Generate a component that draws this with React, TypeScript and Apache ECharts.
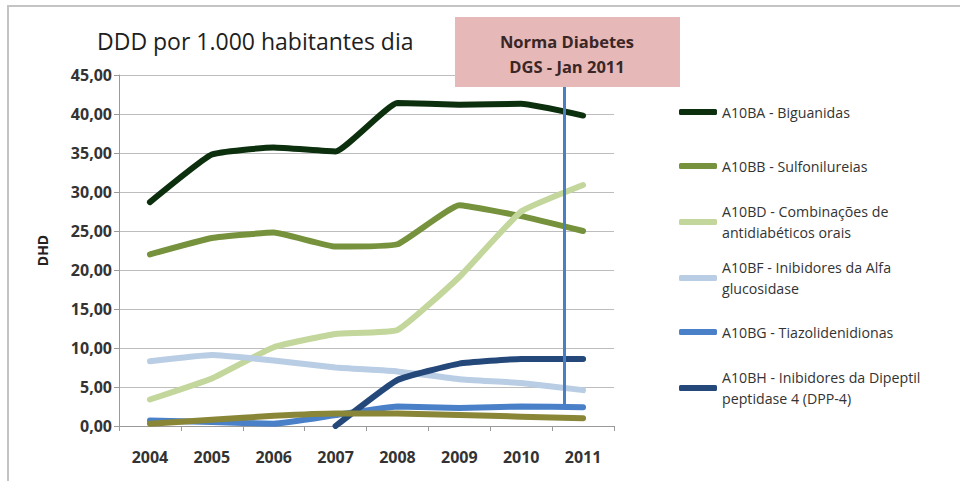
import React, { useEffect, useRef } from "react";
import * as echarts from "echarts";

const years = ["2004", "2005", "2006", "2007", "2008", "2009", "2010", "2011"];
const biguanidas = [28.7, 34.8, 35.7, 35.2, 41.4, 41.2, 41.3, 39.8];
const sulfonilureias = [22.0, 24.1, 24.8, 23.0, 23.3, 28.3, 26.9, 25.0];
const combinacoes = [3.4, 6.1, 10.1, 11.8, 12.3, 19.1, 27.5, 30.9];
const alfaGlucosidase = [8.3, 9.1, 8.4, 7.5, 7.0, 6.0, 5.5, 4.6];
const tiazolidenidionas = [0.7, 0.5, 0.3, 1.4, 2.5, 2.3, 2.5, 2.4];
const dpp4 = [null, null, null, 0.0, 5.9, 8.0, 8.6, 8.6];
const outros = [0.3, 0.8, 1.3, 1.6, 1.6, 1.4, 1.2, 1.0];
const yTicks = [0, 5, 10, 15, 20, 25, 30, 35, 40, 45];

const seriesDefs = [
  { name: "A10BA - Biguanidas", label: "A10BA - Biguanidas", data: biguanidas, color: "#0c2f0e", legendY: 112, two: false },
  { name: "A10BB - Sulfonilureias", label: "A10BB - Sulfonilureias", data: sulfonilureias, color: "#76923c", legendY: 166, two: false },
  { name: "A10BD - Combinações de antidiabéticos orais", label: "A10BD - Combinações de\nantidiabéticos orais", data: combinacoes, color: "#c3d69b", legendY: 222, two: true },
  { name: "A10BF - Inibidores da Alfa glucosidase", label: "A10BF - Inibidores da Alfa\nglucosidase", data: alfaGlucosidase, color: "#b9cde5", legendY: 278, two: true },
  { name: "A10BG - Tiazolidenidionas", label: "A10BG - Tiazolidenidionas", data: tiazolidenidionas, color: "#4a80c8", legendY: 332, two: false },
  { name: "A10BH - Inibidores da Dipeptil peptidase 4 (DPP-4)", label: "A10BH - Inibidores da Dipeptil\npeptidase 4 (DPP-4)", data: dpp4, color: "#25487a", legendY: 388, two: true },
];

const FONT = "'Open Sans', 'Noto Sans', sans-serif";
const LH = 21;

export default function App() {
  const ref = useRef<HTMLDivElement>(null);
  useEffect(() => {
    if (!ref.current) return;
    const chart = echarts.init(ref.current, null, { renderer: "svg" });
    const labelMap: Record<string, string> = {};
    seriesDefs.forEach((s) => (labelMap[s.name] = s.label));

    const legends = seriesDefs.map((s) => ({
      data: [s.name],
      orient: "vertical",
      left: 679,
      top: s.legendY - (s.two ? 1.5 * LH : 0.5 * LH),
      padding: 0,
      icon: "roundRect",
      itemWidth: 38,
      itemHeight: 6,
      formatter: (n: string) => labelMap[n] || n,
      textStyle: {
        fontFamily: FONT,
        fontSize: 14.2,
        color: "#333",
        lineHeight: LH,
        padding: s.two ? [LH, 0, 0, 0] : 0,
      },
    }));

    const series: any[] = seriesDefs.map((s) => ({
      name: s.name,
      type: "line",
      data: s.data,
      smooth: 0.12,
      symbol: "none",
      lineStyle: { width: 6, color: s.color, cap: "round", join: "round" },
      itemStyle: { color: s.color },
      connectNulls: false,
    }));
    series.push({
      name: "Outros",
      type: "line",
      data: outros,
      smooth: 0.12,
      symbol: "none",
      lineStyle: { width: 6, color: "#8a8638", cap: "round", join: "round" },
      itemStyle: { color: "#8a8638" },
    });

    chart.setOption({
      animation: false,
      backgroundColor: "#ffffff",
      title: {
        text: "DDD por 1.000 habitantes dia",
        left: 92,
        top: 24,
        textStyle: { fontFamily: FONT, fontSize: 23, fontWeight: "normal", color: "#1e1e1e" },
      },
      legend: legends,
      grid: { left: 119, right: 346, top: 75, bottom: 55 },
      xAxis: {
        type: "category",
        data: years,
        boundaryGap: true,
        axisLine: { lineStyle: { color: "#9a9a9a", width: 1 } },
        axisTick: { show: true, length: 5, lineStyle: { color: "#9a9a9a" } },
        axisLabel: { fontFamily: FONT, fontSize: 16, fontWeight: "bold", color: "#333", margin: 23 },
      },
      yAxis: {
        type: "value",
        min: 0,
        max: 45,
        interval: 5,
        name: "DHD",
        nameLocation: "middle",
        nameGap: 70,
        nameRotate: 90,
        nameTextStyle: { fontFamily: FONT, fontSize: 14, fontWeight: "bold", color: "#222" },
        axisLine: { show: true, lineStyle: { color: "#9a9a9a", width: 1 } },
        axisTick: { show: true, length: 5, lineStyle: { color: "#9a9a9a" } },
        splitLine: { lineStyle: { color: "#bdbdbd", width: 1 } },
        axisLabel: {
          fontFamily: FONT,
          fontSize: 16,
          fontWeight: "bold",
          color: "#333",
          margin: 7,
          formatter: (v: number) => (yTicks.includes(v) ? v.toFixed(2).replace(".", ",") : ""),
        },
      },
      series,
    });

    const x10 = chart.convertToPixel({ xAxisIndex: 0 }, "2010") as number;
    const x11 = chart.convertToPixel({ xAxisIndex: 0 }, "2011") as number;
    const lx = x10 + (x11 - x10) * 0.7;
    const yBot = chart.convertToPixel({ yAxisIndex: 0 }, 2.7) as number;
    const boxBottom = 87;

    chart.setOption({
      graphic: [
        {
          type: "rect",
          id: "frame",
          shape: { x: 8, y: 6, width: 1000, height: 520 },
          style: { fill: "none", stroke: "#c4c4c4", lineWidth: 2 },
          silent: true,
          z: -1,
        },
        {
          type: "line",
          id: "vline",
          shape: { x1: lx, y1: boxBottom, x2: lx, y2: yBot },
          style: { stroke: "#4a7fc4", lineWidth: 3 },
          z: 10,
        },
        {
          type: "rect",
          id: "box",
          shape: { x: 455, y: 17, width: 225, height: 70 },
          style: { fill: "#e6b8b7" },
          z: 11,
        },
        {
          type: "text",
          id: "box1",
          x: 567,
          y: 41,
          style: {
            text: "Norma Diabetes",
            fontFamily: FONT,
            fontSize: 16.5,
            fontWeight: "bold",
            fill: "#3a2626",
            align: "center",
            verticalAlign: "middle",
          },
          z: 12,
        },
        {
          type: "text",
          id: "box2",
          x: 567,
          y: 66,
          style: {
            text: "DGS - Jan 2011",
            fontFamily: FONT,
            fontSize: 16.5,
            fontWeight: "bold",
            fill: "#3a2626",
            align: "center",
            verticalAlign: "middle",
          },
          z: 12,
        },
      ],
    });

    return () => chart.dispose();
  }, []);

  return (
    <div
      ref={ref}
      style={{ position: "absolute", left: 0, top: 0, width: 960, height: 481 }}
    />
  );
}
